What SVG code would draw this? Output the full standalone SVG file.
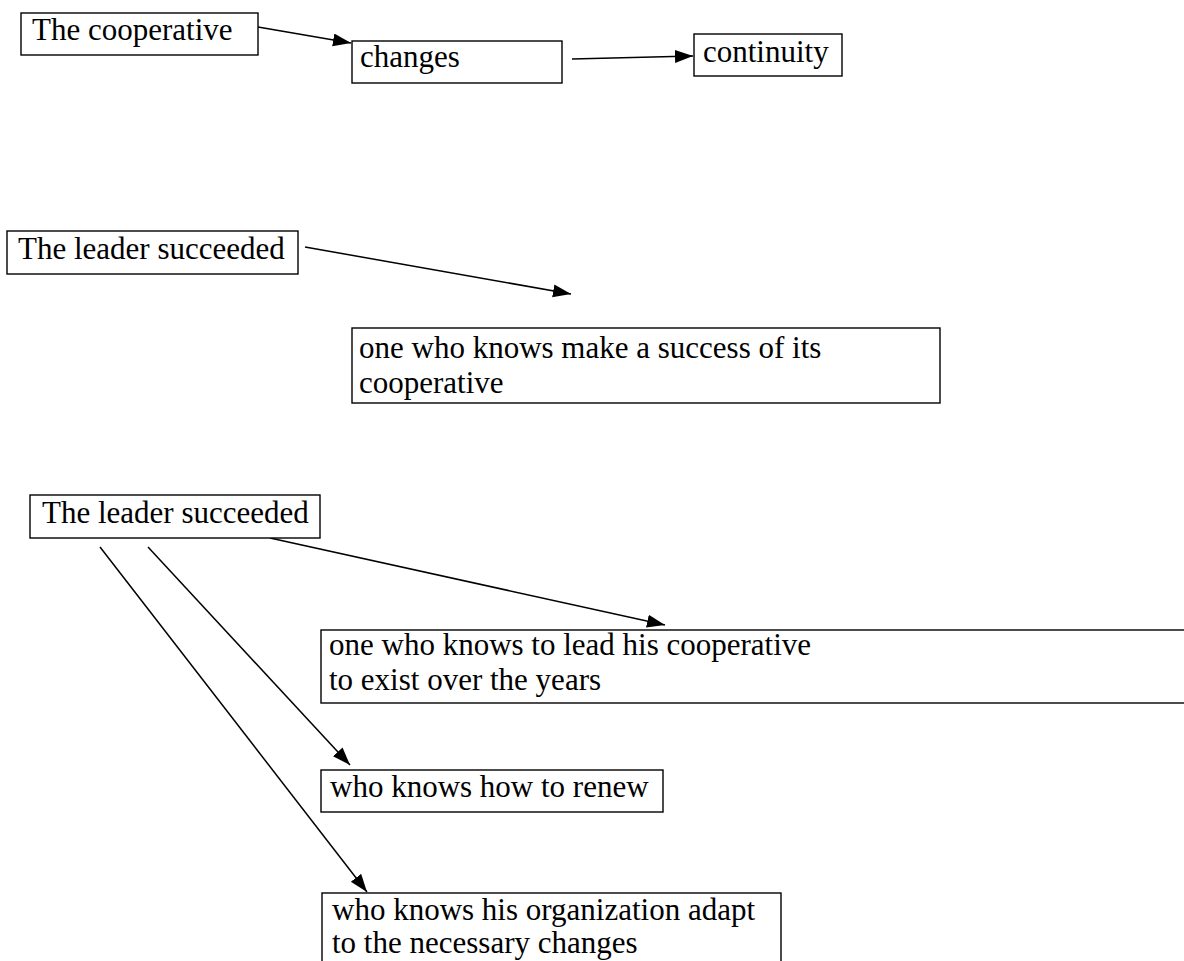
<svg xmlns="http://www.w3.org/2000/svg" width="1184" height="961" viewBox="0 0 1184 961">
<style>
.box{fill:#fff;stroke:#000;stroke-width:1.4}
.t{font-family:"Liberation Serif","Times New Roman",serif;font-size:31px;fill:#000}
.c{stroke:#000;stroke-width:1.5;fill:none;marker-end:url(#ah)}
</style>
<defs>
<marker id="ah" markerUnits="userSpaceOnUse" markerWidth="20" markerHeight="14" refX="18" refY="6.5" orient="auto">
<path d="M0,0 L18,6.5 L0,13 z" fill="#000"/>
</marker>
</defs>
<rect width="1184" height="961" fill="#fff"/>
<g id="connectors">
<line class="c" x1="258" y1="27" x2="351" y2="43"/>
<line class="c" x1="572" y1="59" x2="693" y2="56"/>
<line class="c" x1="305" y1="247" x2="571" y2="294"/>
<line class="c" x1="270" y1="538" x2="665" y2="625"/>
<line class="c" x1="148" y1="547" x2="350" y2="765"/>
<line class="c" x1="100" y1="547" x2="367" y2="892"/>
</g>
<g id="n1"><rect class="box" x="21" y="13" width="237" height="42"/><text class="t" x="32" y="40">The cooperative</text></g>
<g id="n2"><rect class="box" x="352" y="41" width="210" height="42"/><text class="t" x="360" y="67">changes</text></g>
<g id="n3"><rect class="box" x="694" y="34" width="148" height="42"/><text class="t" x="703" y="62">continuity</text></g>
<g id="n4"><rect class="box" x="7" y="231" width="291" height="43"/><text class="t" x="18" y="259">The leader succeeded</text></g>
<g id="n5"><rect class="box" x="352" y="328" width="588" height="75"/><text class="t" x="359" y="358">one who knows make a success of its</text><text class="t" x="359" y="393">cooperative</text></g>
<g id="n6"><rect class="box" x="30" y="495" width="290" height="43"/><text class="t" x="42" y="523">The leader succeeded</text></g>
<g id="n7"><rect class="box" x="321" y="630" width="880" height="73"/><text class="t" x="329" y="655">one who knows to lead his cooperative</text><text class="t" x="329" y="690">to exist over the years</text></g>
<g id="n8"><rect class="box" x="321" y="770" width="342" height="42"/><text class="t" x="330" y="797">who knows how to renew</text></g>
<g id="n9"><rect class="box" x="322" y="893" width="459" height="90"/><text class="t" x="332" y="920">who knows his organization adapt</text><text class="t" x="332" y="953">to the necessary changes</text></g>
</svg>
